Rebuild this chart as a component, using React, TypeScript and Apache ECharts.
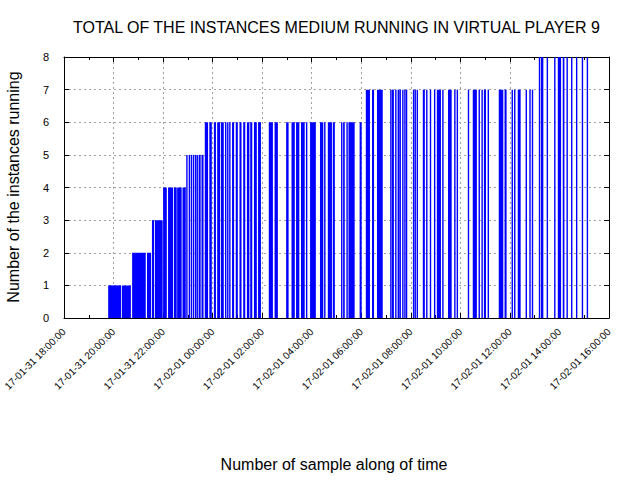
import React, { useEffect, useRef } from 'react';
import * as echarts from 'echarts';

// minutes after 17-01-31 18:00:00, [start, end] of each run of samples
const START = Date.UTC(2017, 0, 31, 18, 0, 0);
const X_MAX = 1320;
const X_STEP = 120;

const level1 = [[107, 138], [140, 162]];
const level2 = [[165, 198], [201, 211]];
const level3 = [[213, 218], [220, 239]];
const level4 = [[240, 249], [252, 264], [266, 273], [274, 285], [287, 295]];
const level5 = [[296, 299], [302, 302], [307, 307], [312, 312], [317, 317], [321, 321], [326, 331], [333, 338]];
const level6 = [
  [341, 349], [352, 358], [363, 368], [371, 378], [380, 387], [390, 392], [395, 397], [400, 402],
  [407, 412], [416, 421], [425, 430], [434, 439], [443, 449], [451, 456], [460, 467], [470, 477],
  [496, 506], [510, 518], [538, 544], [551, 559], [562, 570], [574, 583], [586, 589], [596, 610],
  [620, 628], [630, 632], [639, 649], [651, 656], [671, 674], [676, 680], [684, 687], [689, 704],
  [716, 721],
];
const level7 = [
  [731, 741], [746, 751], [758, 772], [790, 792], [794, 799], [802, 804], [808, 809], [812, 816],
  [819, 821], [824, 826], [828, 830], [845, 847], [849, 851], [854, 856], [869, 874], [877, 879],
  [886, 888], [896, 898], [903, 913], [916, 918], [930, 939], [945, 947], [951, 953], [978, 980],
  [990, 1000], [1004, 1007], [1011, 1014], [1017, 1022], [1026, 1029], [1053, 1064], [1067, 1072],
  [1084, 1086], [1090, 1092], [1099, 1106], [1118, 1121], [1127, 1130], [1133, 1136],
];
const level8 = [
  [1150, 1153], [1155, 1161], [1169, 1172], [1187, 1190], [1196, 1204], [1208, 1212], [1217, 1220],
  [1228, 1231], [1240, 1243], [1254, 1257], [1266, 1269],
];
const levels = [level1, level2, level3, level4, level5, level6, level7, level8];

const FONT = "'Liberation Sans', Arial, sans-serif";

const pad = (n: number) => String(n).padStart(2, '0');
const fmtTime = (min: number) => {
  const d = new Date(START + min * 60000);
  return `${pad(d.getUTCFullYear() % 100)}-${pad(d.getUTCMonth() + 1)}-${pad(d.getUTCDate())} ${pad(
    d.getUTCHours(),
  )}:${pad(d.getUTCMinutes())}:${pad(d.getUTCSeconds())}`;
};

const App: React.FC = () => {
  const chartRef = useRef<HTMLDivElement>(null);

  useEffect(() => {
    if (!chartRef.current) return;
    document.body.style.margin = '0';
    const chart = echarts.init(chartRef.current, null, { renderer: 'svg' });

    const data: number[][] = [];
    levels.forEach((runs, i) => runs.forEach(([s, e]) => data.push([s, e, i + 1])));

    const gridLine = { show: true, lineStyle: { color: '#a0a0a0', type: [2, 3], width: 1 } };
    const line = { show: true, onZero: false, lineStyle: { color: '#000', width: 1 } };

    const option: any = {
      animation: false,
      backgroundColor: '#fff',
      title: {
        text: 'TOTAL OF THE INSTANCES MEDIUM RUNNING IN VIRTUAL PLAYER 9',
        left: 68,
        top: 14,
        textStyle: { fontFamily: FONT, fontSize: 16, fontWeight: 'normal', color: '#000' },
      },
      grid: { left: 64, right: 31, top: 57, bottom: 162, outerBoundsMode: 'none' },
      xAxis: [
        {
          type: 'value',
          min: 0,
          max: X_MAX,
          interval: X_STEP,
          axisLine: line,
          axisTick: { inside: true, length: 5, lineStyle: { color: '#000' } },
          minorTick: { show: true, splitNumber: 2, length: 3, lineStyle: { color: '#000' } },
          splitLine: gridLine,
          axisLabel: {
            rotate: 45,
            margin: 12,
            fontSize: 10,
            fontFamily: FONT,
            color: '#000',
            showMinLabel: true,
            showMaxLabel: true,
            hideOverlap: false,
            formatter: (v: number) => fmtTime(v),
          },
        },
        {
          type: 'value',
          position: 'top',
          min: 0,
          max: X_MAX,
          interval: X_STEP,
          axisLine: line,
          axisTick: { inside: true, length: 5, lineStyle: { color: '#000' } },
          minorTick: { show: true, splitNumber: 2, length: 3, lineStyle: { color: '#000' } },
          splitLine: { show: false },
          axisLabel: { show: false },
        },
      ],
      yAxis: [
        {
          type: 'value',
          min: 0,
          max: 8,
          interval: 1,
          axisLine: line,
          axisTick: { inside: true, length: 5, lineStyle: { color: '#000' } },
          splitLine: gridLine,
          axisLabel: { margin: 15, fontSize: 11, fontFamily: FONT, color: '#000' },
        },
        {
          type: 'value',
          position: 'right',
          min: 0,
          max: 8,
          interval: 1,
          axisLine: line,
          axisTick: { inside: true, length: 5, lineStyle: { color: '#000' } },
          splitLine: { show: false },
          axisLabel: { show: false },
        },
      ],
      graphic: [
        {
          type: 'text',
          x: 334,
          y: 464,
          style: {
            text: 'Number of sample along of time',
            fontFamily: FONT,
            fontSize: 16,
            fill: '#000',
            align: 'center',
            verticalAlign: 'middle',
          },
        },
        {
          type: 'text',
          x: 13,
          y: 187,
          rotation: Math.PI / 2,
          style: {
            text: 'Number of the instances running',
            fontFamily: FONT,
            fontSize: 16,
            fill: '#000',
            align: 'center',
            verticalAlign: 'middle',
          },
        },
      ],
      series: [
        {
          type: 'custom',
          xAxisIndex: 0,
          yAxisIndex: 0,
          clip: true,
          encode: { x: [0, 1], y: 2 },
          data,
          renderItem: (_params: any, api: any) => {
            const a = api.coord([api.value(0), api.value(2)]);
            const b = api.coord([api.value(1), 0]);
            const w = Math.max(b[0] - a[0], 1.4);
            return {
              type: 'rect',
              shape: { x: a[0], y: a[1], width: w, height: b[1] - a[1] },
              style: { fill: '#0000ff' },
            };
          },
        },
      ],
    };
    chart.setOption(option);

    return () => {
      chart.dispose();
    };
  }, []);

  return <div ref={chartRef} style={{ position: 'fixed', left: 0, top: 0, width: 640, height: 480 }} />;
};

export default App;
